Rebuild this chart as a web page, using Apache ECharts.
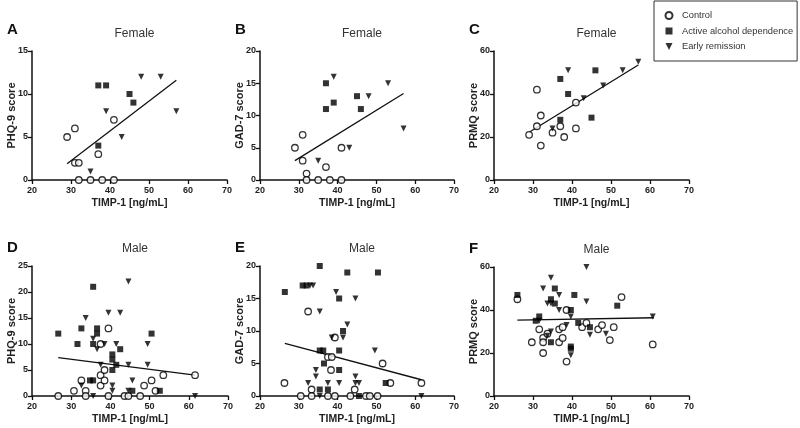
<!DOCTYPE html>
<html><head><meta charset="utf-8">
<script src="https://cdn.jsdelivr.net/npm/echarts@6/dist/echarts.min.js"></script>
<style>html,body{margin:0;padding:0;background:#fff}#c{width:800px;height:428px}</style>
</head><body><div id="c"></div>
<script>
// ---- Data (x = TIMP-1 ng/mL, y = score) ----
const groups = ['Control', 'Active alcohol dependence', 'Early remission'];
const xTicks = [20, 30, 40, 50, 60, 70];

// A: Female PHQ-9
const fPHQ_control = [[29,5],[31,6],[31,2],[32,2],[32,0],[35,0],[38,0],[41,0],[37,3],[41,7]];
const fPHQ_active = [[37,11],[39,11],[45,10],[46,9],[37,4]];
const fPHQ_remission = [[35,1],[39,8],[43,5],[48,12],[53,12],[57,8]];
const fPHQ_fit = [[29,1.9],[57,11.6]];

// B: Female GAD-7
const fGAD_control = [[29,5],[31,7],[31,3],[32,1],[32,0],[35,0],[37,2],[38,0],[41,0],[41,5]];
const fGAD_active = [[37,15],[39,12],[37,11],[45,13],[46,11]];
const fGAD_remission = [[35,3],[39,16],[43,5],[48,13],[53,15],[57,8]];
const fGAD_fit = [[29,3.0],[57,13.4]];

// C: Female PRMQ
const fPRMQ_control = [[29,21],[31,25],[31,42],[32,30],[32,16],[35,22],[37,25],[38,20],[41,24],[41,36]];
const fPRMQ_active = [[37,47],[39,40],[37,28],[45,29],[46,51]];
const fPRMQ_remission = [[35,24],[39,51],[43,38],[48,44],[53,51],[57,55]];
const fPRMQ_fit = [[29,22.2],[57,53.5]];

// D: Male PHQ-9
const mPHQ_control = [[26.7,0],[30.7,1],[32.6,3],[33.7,1],[33.7,0],[37.5,2],[37.5,4],[38.5,5],[38.5,3],[37.5,10],[39.5,13],[39.5,0],[43.6,0],[44.6,0],[47.6,0],[48.6,2],[50.5,3],[51.5,1],[53.5,4],[61.6,4]];
const mPHQ_active = [[26.7,12],[31.6,10],[32.6,13],[35.6,21],[35.6,10],[36.6,13],[36.6,12],[34.8,3],[35.6,3],[40.5,8],[40.5,7],[41.5,6],[42.5,9],[40.5,5],[45.6,1],[50.5,12],[52.6,1]];
const mPHQ_remission = [[33.7,15],[32.6,2],[35.6,11],[36.6,9],[35.6,0],[39.5,16],[42.5,16],[44.6,22],[38.5,10],[41.5,10],[37.5,6],[40.5,2],[40.5,1],[44.6,6],[45.6,3],[44.6,1],[49.5,10],[49.5,6],[61.6,0]];
const mPHQ_fit = [[26.7,7.4],[61.6,4.0]];

// E: Male GAD-7
const mGAD_control = [[26.3,2],[30.5,0],[32.4,13],[33.3,1],[33.3,0],[37.5,0],[39.3,0],[38.3,4],[37.5,6],[38.5,6],[39.3,9],[43.3,0],[44.4,1],[47.3,0],[48.3,0],[50.3,0],[51.6,5],[53.6,2],[61.6,2]];
const mGAD_active = [[26.4,16],[31,17],[32,17],[35.4,20],[42.5,19],[50.4,19],[40.4,15],[41.4,10],[35.4,7],[36.3,7],[36.5,5],[40.4,7],[40.4,4],[35.4,1],[37.5,1],[45.5,0],[52.4,2]];
const mGAD_remission = [[32.9,17],[33.7,17],[35.4,13],[39.6,16],[44.6,15],[42.5,11],[41.4,9],[38.5,9],[49.6,7],[34.4,4],[34.4,3],[32.4,2],[35.4,0],[37.5,2],[40.4,2],[44.6,3],[44.6,2],[45.5,2],[61.6,0]];
const mGAD_fit = [[26.4,8.1],[61.6,2.5]];

// F: Male PRMQ
const mPRMQ_control = [[26,45],[29.7,25],[31.6,31],[32.6,27],[32.6,25],[32.6,20],[33.7,29],[36.7,25],[37.6,27],[36.7,31],[37.6,32],[38.6,40],[38.6,16],[42.6,32],[43.7,34],[46.7,31],[47.7,33],[49.7,26],[50.7,32],[52.7,46],[60.7,24]];
const mPRMQ_active = [[26,47],[30.7,35],[31.6,37],[34.6,45],[34.6,25],[35.6,50],[35.6,43],[39.7,40],[39.7,23],[39.7,22],[40.6,47],[41.6,34],[44.6,32],[51.6,42]];
const mPRMQ_remission = [[34.6,55],[32.6,50],[36.7,47],[33.7,43],[34.6,43],[36.7,40],[39.7,37],[43.7,60],[43.7,44],[31.6,35],[38.6,33],[34.6,30],[33.7,28],[44.6,28.5],[48.7,29],[39.7,19],[60.7,37]];
const mPRMQ_fit = [[26,35.3],[61,36.4]];

// ---- Layout ----
const FONT = 'Liberation Sans, Arial, sans-serif';
const panels = [
  {letter:'A', title:'Female', yName:'PHQ-9 score', yMax:15, yInt:5, left:32, top:51, width:195, height:129, d:[fPHQ_control,fPHQ_active,fPHQ_remission], fit:fPHQ_fit, lt:34},
  {letter:'B', title:'Female', yName:'GAD-7 score', yMax:20, yInt:5, left:260, top:51, width:194, height:129, d:[fGAD_control,fGAD_active,fGAD_remission], fit:fGAD_fit, lt:34},
  {letter:'C', title:'Female', yName:'PRMQ score', yMax:60, yInt:20, left:494, top:51, width:195, height:129, d:[fPRMQ_control,fPRMQ_active,fPRMQ_remission], fit:fPRMQ_fit, lt:34},
  {letter:'D', title:'Male', yName:'PHQ-9 score', yMax:25, yInt:5, left:32, top:266, width:196, height:130, d:[mPHQ_control,mPHQ_active,mPHQ_remission], fit:mPHQ_fit, lt:31},
  {letter:'E', title:'Male', yName:'GAD-7 score', yMax:20, yInt:5, left:260, top:266, width:194, height:130, d:[mGAD_control,mGAD_active,mGAD_remission], fit:mGAD_fit, lt:31},
  {letter:'F', title:'Male', yName:'PRMQ score', yMax:60, yInt:20, left:494, top:267, width:195, height:129, d:[mPRMQ_control,mPRMQ_active,mPRMQ_remission], fit:mPRMQ_fit, lt:31}
];

const axisLine = {lineStyle:{color:'#111', width:1.5}};
const axisTick = {show:true, inside:false, length:4, lineStyle:{color:'#111', width:1.3}};
const axisLabel = {fontFamily:FONT, fontSize:9, fontWeight:'bold', color:'#222', margin:6};

const symStyles = [
  {symbol:'circle', symbolSize:6.5, itemStyle:{color:'#fff', borderColor:'#000', borderWidth:1.3}},
  {symbol:'rect', symbolSize:6, itemStyle:{color:'#000'}},
  {symbol:'triangle', symbolSize:6, symbolRotate:180, itemStyle:{color:'#000'}}
];
const legendIcons = ['circle', 'rect', 'path://M0,0L10,0L5,10Z'];

const grid = [], xAxis = [], yAxis = [], series = [], title = [];
panels.forEach((p, i) => {
  grid.push({left:p.left, top:p.top, width:p.width, height:p.height, containLabel:false});
  xAxis.push({gridIndex:i, type:'value', min:xTicks[0], max:xTicks[xTicks.length-1], interval:10,
    name:'TIMP-1 [ng/mL]', nameLocation:'middle', nameGap:18, nameMoveOverlap:false,
    nameTextStyle:{fontFamily:FONT, fontSize:10.5, fontWeight:'bold', color:'#222'},
    axisLine:Object.assign({onZero:false}, axisLine), axisTick, axisLabel, splitLine:{show:false}});
  yAxis.push({gridIndex:i, type:'value', min:0, max:p.yMax, interval:p.yInt,
    name:p.yName, nameLocation:'middle', nameGap:15, nameRotate:90, nameMoveOverlap:false,
    nameTextStyle:{fontFamily:FONT, fontSize:11, fontWeight:'bold', color:'#222'},
    axisLine:Object.assign({show:true}, axisLine), axisTick, axisLabel:Object.assign({}, axisLabel, {margin:4}), splitLine:{show:false}});
  p.d.forEach((arr, g) => {
    series.push(Object.assign({type:'scatter', name:groups[g], xAxisIndex:i, yAxisIndex:i, data:arr, z:3+g}, symStyles[g]));
  });
  series.push({type:'line', name:'fit', xAxisIndex:i, yAxisIndex:i, data:p.fit, symbol:'none', silent:true,
    lineStyle:{color:'#111', width:1.3}, z:2});
  title.push({text:p.title, left:p.left + p.width/2, top:p.top - 28, textAlign:'center',
    textStyle:{fontFamily:FONT, fontSize:12, fontWeight:'normal', color:'#333'}});
  title.push({text:p.letter, left:p.left - 30, top:p.top - p.lt,
    textStyle:{fontFamily:FONT, fontSize:15, fontWeight:'bold', color:'#111'}});
});

const chart = echarts.init(document.getElementById('c'), null, {renderer:'canvas'});
chart.setOption({
  animation:false,
  backgroundColor:'#fff',
  title,
  legend:{data:groups.map((g, k) => ({name:g, icon:legendIcons[k]})),
    orient:'vertical', left:654, top:1, symbolRotate:0,
    padding:[9, 4, 9, 10.5], itemWidth:7, itemHeight:7, itemGap:4.5,
    borderColor:'#333', borderWidth:1, borderRadius:0,
    textStyle:{fontFamily:FONT, fontSize:9.3, color:'#333', lineHeight:11, padding:[0,0,0,4.5]}},
  grid, xAxis, yAxis, series
});
</script>
</body></html>
